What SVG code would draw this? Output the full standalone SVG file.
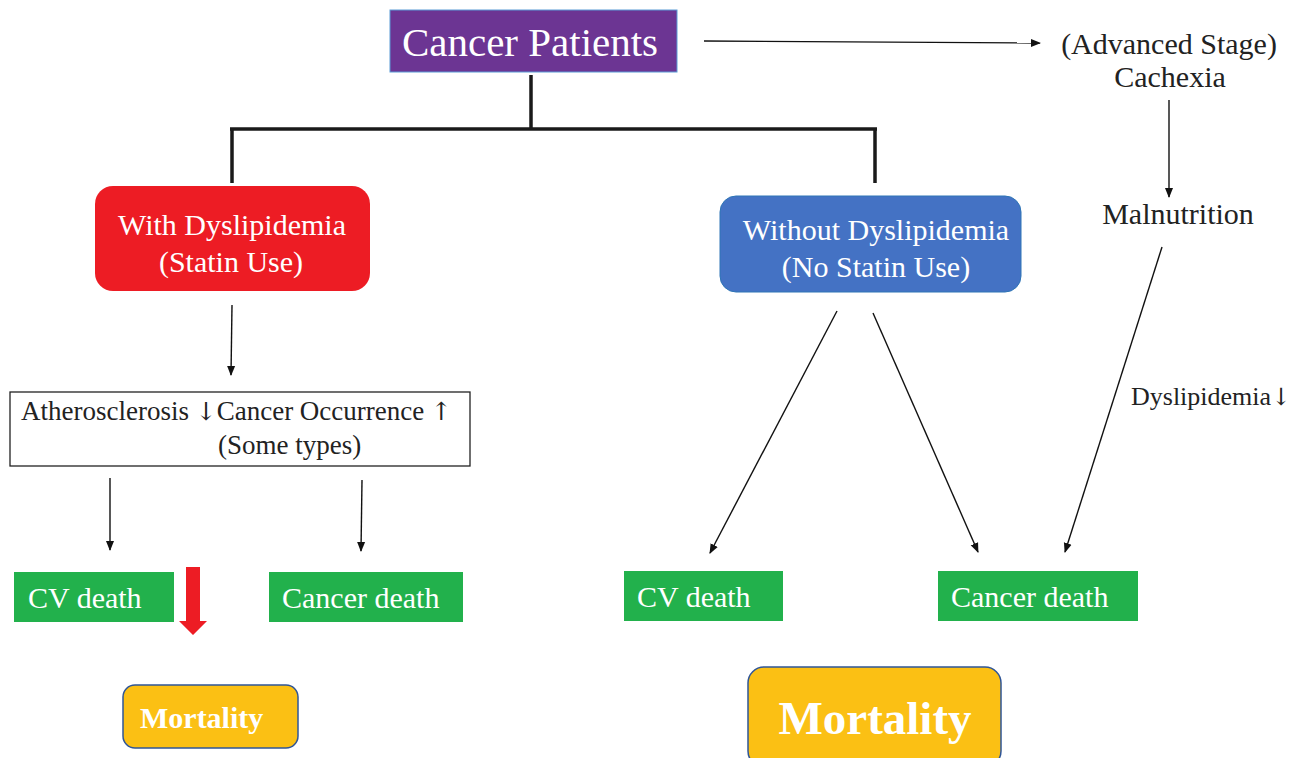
<svg xmlns="http://www.w3.org/2000/svg" width="1307" height="758" viewBox="0 0 1307 758" font-family="'Liberation Serif', 'DejaVu Serif', serif">
<style>
text{font-family:'Liberation Serif','DejaVu Serif',serif}
.ar{font-family:'DejaVu Serif','DejaVu Sans',serif;font-weight:normal}
.w{fill:#fff}
.k{fill:#222}
.thin{stroke:#111;stroke-width:1.4;fill:none}
.thick{stroke:#1a1a1a;stroke-width:3.5;fill:none}
.green{fill:#22B14C}
</style>
<defs>
<marker id="ah" markerWidth="10" markerHeight="10" refX="9" refY="5" orient="auto" markerUnits="userSpaceOnUse">
<path d="M0,1 L10,5 L0,9 Z" fill="#111"/>
</marker>
</defs>
<rect width="1307" height="758" fill="#fff"/>
<g id="connectors">
<path class="thick" d="M531,75 V129 M230,129 H877 M232,128 V183 M875,128 V183"/>
<line class="thin" x1="704" y1="41" x2="1040" y2="43" marker-end="url(#ah)"/>
<line class="thin" x1="1169" y1="100" x2="1169" y2="197" marker-end="url(#ah)"/>
<line class="thin" x1="1162" y1="247" x2="1065" y2="552" marker-end="url(#ah)"/>
<line class="thin" x1="232" y1="305" x2="231" y2="375" marker-end="url(#ah)"/>
<line class="thin" x1="110" y1="478" x2="110" y2="550" marker-end="url(#ah)"/>
<line class="thin" x1="362" y1="480" x2="361" y2="551" marker-end="url(#ah)"/>
<line class="thin" x1="837" y1="311" x2="710" y2="553" marker-end="url(#ah)"/>
<line class="thin" x1="873" y1="313" x2="978" y2="552" marker-end="url(#ah)"/>
<path d="M186,567 H200 V621 H207 L193,635 L179,621 H186 Z" fill="#ED1C24"/>
<text x="1131" y="405" font-size="26" class="k">Dyslipidemia<tspan class="ar" font-size="24">↓</tspan></text>
</g>
<g id="cancer-patients">
<rect x="390" y="10" width="287" height="62" fill="#6C3593" stroke="#5B9BD5" stroke-width="1"/>
<text x="530" y="56" font-size="41" class="w" text-anchor="middle">Cancer Patients</text>
</g>
<g id="cachexia">
<text x="1169" y="54" font-size="30" class="k" text-anchor="middle">(Advanced Stage)</text>
<text x="1170" y="87" font-size="30" class="k" text-anchor="middle">Cachexia</text>
</g>
<g id="malnutrition">
<text x="1178" y="224" font-size="30" class="k" text-anchor="middle">Malnutrition</text>
</g>
<g id="with-dyslipidemia">
<rect x="95" y="186" width="275" height="105" rx="18" fill="#ED1C24"/>
<text x="232" y="235" font-size="30" class="w" text-anchor="middle">With Dyslipidemia</text>
<text x="231" y="272" font-size="30" class="w" text-anchor="middle">(Statin Use)</text>
</g>
<g id="without-dyslipidemia">
<rect x="720" y="196" width="301" height="96" rx="16" fill="#4472C4" stroke="#2E75B6" stroke-width="1"/>
<text x="876" y="240" font-size="30" class="w" text-anchor="middle">Without Dyslipidemia</text>
<text x="876" y="277" font-size="30" class="w" text-anchor="middle">(No Statin Use)</text>
</g>
<g id="effects">
<rect x="10" y="392" width="460" height="74" fill="#fff" stroke="#222" stroke-width="1.3"/>
<text x="21" y="420" font-size="27" class="k">Atherosclerosis <tspan class="ar" font-size="25">↓</tspan>Cancer Occurrence <tspan class="ar" font-size="25">↑</tspan></text>
<text x="218" y="454" font-size="27" class="k">(Some types)</text>
</g>
<g id="cv-death-left">
<rect x="14" y="572" width="160" height="50" class="green"/>
<text x="28" y="608" font-size="30" class="w">CV death</text>
</g>
<g id="cancer-death-left">
<rect x="269" y="572" width="194" height="50" class="green"/>
<text x="282" y="608" font-size="30" class="w">Cancer death</text>
</g>
<g id="cv-death-right">
<rect x="624" y="571" width="159" height="50" class="green"/>
<text x="637" y="607" font-size="30" class="w">CV death</text>
</g>
<g id="cancer-death-right">
<rect x="938" y="571" width="200" height="50" class="green"/>
<text x="951" y="607" font-size="30" class="w">Cancer death</text>
</g>
<g id="mortality-left">
<rect x="123" y="685" width="175" height="63" rx="12" fill="#FBC014" stroke="#2F5597" stroke-width="1.5"/>
<text x="140" y="728" font-size="30" font-weight="bold" class="w">Mortality</text>
</g>
<g id="mortality-right">
<rect x="748" y="667" width="253" height="100" rx="16" fill="#FBC014" stroke="#2F5597" stroke-width="1.5"/>
<text x="875" y="734" font-size="47" font-weight="bold" class="w" text-anchor="middle">Mortality</text>
</g>
</svg>
